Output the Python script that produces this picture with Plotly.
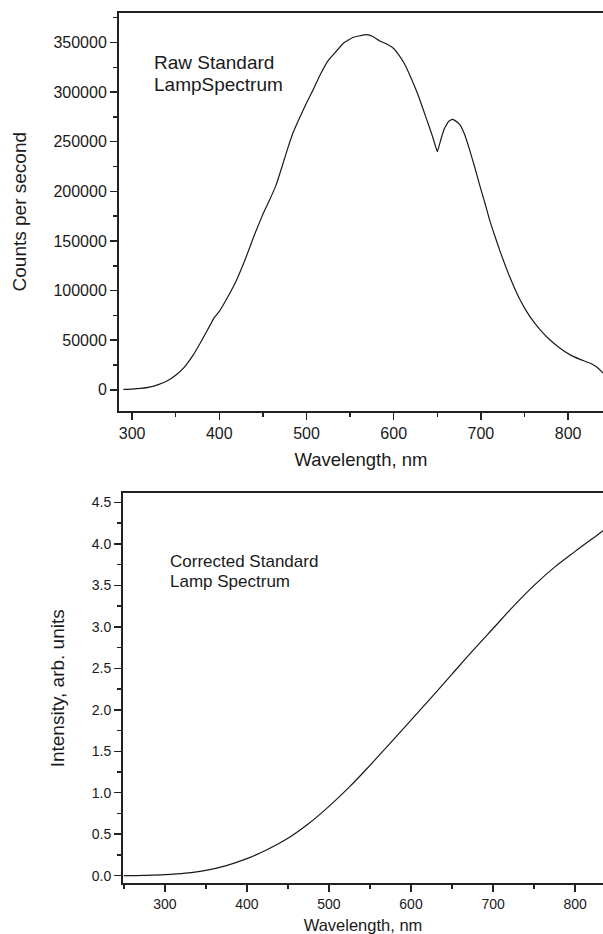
import plotly.graph_objects as go

# ---- Data: raw standard lamp spectrum (counts per second) ----
raw_wavelength = [290, 300, 310, 320, 330, 340, 350, 360, 370, 380, 390, 394, 400, 410, 420,
                  430, 440, 450, 457, 465, 472, 478, 485, 492, 500, 508, 516, 525, 533, 542,
                  553, 560, 569, 576, 584, 592, 600, 605, 612, 620, 628, 638, 645, 650, 654,
                  658, 663, 667, 670, 676, 681, 687, 693, 699, 705, 710, 716, 722, 733, 745,
                  756, 768, 779, 790, 802, 813, 825, 832, 836, 840]
raw_counts = [500, 800, 1500, 2800, 5300, 9000, 14800, 23000, 35000, 50000, 66000, 72500, 79000,
              94000, 111000, 132000, 155500, 177000, 190000, 206000, 225000, 242000, 260000,
              274000, 289000, 303000, 318000, 332000, 340000, 349000, 355000, 356500, 358000,
              356000, 351500, 348500, 344000, 338500, 329000, 314000, 297000, 272000, 254000,
              240000, 252000, 263000, 270500, 272500, 271500, 267000, 258000, 242000, 224000,
              205000, 187000, 171000, 155000, 139500, 114000, 90500, 74000, 60500, 50500,
              42500, 35500, 31000, 27000, 23500, 20500, 17000]

# ---- Data: corrected standard lamp spectrum (arb. units) ----
cor_wavelength = [250, 275, 300, 325, 350, 375, 400, 425, 450, 475, 500, 525, 550, 575, 600,
                  625, 650, 675, 700, 725, 750, 775, 800, 820, 834]
cor_intensity = [0.0, 0.004, 0.012, 0.03, 0.064, 0.122, 0.205, 0.315, 0.45, 0.625, 0.835, 1.07,
                 1.33, 1.60, 1.875, 2.15, 2.43, 2.71, 2.98, 3.25, 3.50, 3.72, 3.91, 4.055, 4.16]

top_title_x = "Wavelength, nm"
top_title_y = "Counts per second"
bot_title_x = "Wavelength, nm"
bot_title_y = "Intensity, arb. units"
top_label = ["Raw Standard", "LampSpectrum"]
bot_label = ["Corrected Standard", "Lamp Spectrum"]

W, H = 603, 934
FONT = "Liberation Sans, Arial, sans-serif"
INK = "#1a1a1a"

fig = go.Figure()
fig.add_trace(go.Scatter(x=raw_wavelength, y=raw_counts, mode="lines",
                         line=dict(color=INK, width=1.2, shape="spline", smoothing=0.3),
                         xaxis="x", yaxis="y", showlegend=False, hoverinfo="skip"))
fig.add_trace(go.Scatter(x=cor_wavelength, y=cor_intensity, mode="lines",
                         line=dict(color=INK, width=1.2, shape="spline", smoothing=1.0),
                         xaxis="x2", yaxis="y2", showlegend=False, hoverinfo="skip"))


def ax_common(tick_size):
    return dict(showline=True, linecolor="#222", linewidth=2, ticks="outside", ticklen=7,
                tickwidth=1.5, tickcolor="#222", showgrid=False, zeroline=False,
                automargin=False, tickfont=dict(family=FONT, size=tick_size, color=INK))


def px_y(py):
    return (H - py) / H


fig.update_layout(
    width=W, height=H, template="none",
    paper_bgcolor="white", plot_bgcolor="white",
    margin=dict(l=0, r=0, t=0, b=0),
    showlegend=False,
    xaxis=dict(**ax_common(16), domain=[119 / W, 1], range=[285, 840], dtick=100, tick0=0,
               mirror=True, anchor="y",
               minor=dict(ticks="outside", ticklen=4, tickwidth=1.5, tickcolor="#222", dtick=50),
               title=dict(text=top_title_x, font=dict(family=FONT, size=18.5, color=INK),
                          standoff=12)),
    yaxis=dict(**ax_common(16), domain=[px_y(410.7), px_y(12.7)], range=[-21000, 380000],
               dtick=50000, tick0=0, tickformat="d", anchor="x",
               minor=dict(ticks="outside", ticklen=4, tickwidth=1.5, tickcolor="#222", dtick=25000),
               title=dict(text=top_title_y, font=dict(family=FONT, size=19, color=INK),
                          standoff=22)),
    xaxis2=dict(**ax_common(14), domain=[123 / W, 1], range=[249, 834], dtick=100, tick0=0,
                mirror=True, anchor="y2",
                minor=dict(ticks="outside", ticklen=4, tickwidth=1.5, tickcolor="#222", dtick=50),
                title=dict(text=bot_title_x, font=dict(family=FONT, size=16.5, color=INK),
                           standoff=8)),
    yaxis2=dict(**ax_common(14), domain=[px_y(883.3), px_y(493.3)], range=[-0.092, 4.61],
                dtick=0.5, tick0=0, tickformat=".1f", anchor="x2",
                minor=dict(ticks="outside", ticklen=4, tickwidth=1.5, tickcolor="#222", dtick=0.25),
                title=dict(text=bot_title_y, font=dict(family=FONT, size=19, color=INK),
                           standoff=22)),
)

annots = [
    (top_label[0], 151.7, 63, 19),
    (top_label[1], 151.7, 84.5, 19),
    (bot_label[0], 168.3, 561, 17),
    (bot_label[1], 168.3, 581, 17),
]
for text, x, y, size in annots:
    fig.add_annotation(text=text, xref="paper", yref="paper", x=x / W, y=px_y(y),
                       xanchor="left", yanchor="middle", showarrow=False,
                       font=dict(family=FONT, size=size, color=INK))

fig.write_html("out.html", config={"displayModeBar": False, "staticPlot": True},
               post_script="document.body.style.margin='0';document.body.style.overflow='hidden';")
